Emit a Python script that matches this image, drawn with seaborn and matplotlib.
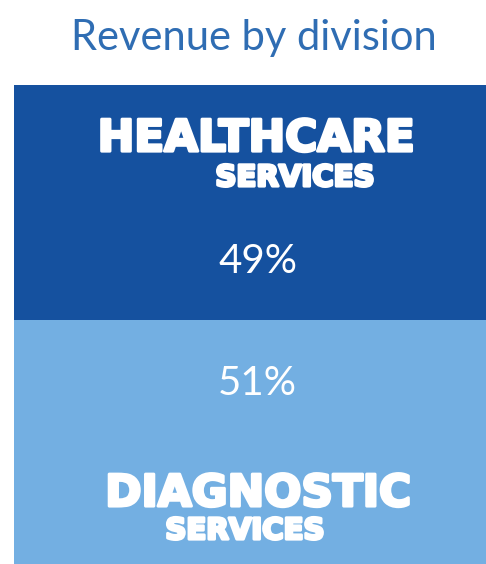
import matplotlib
matplotlib.use("Agg")
import matplotlib.pyplot as plt
import matplotlib.patheffects as pe
import pandas as pd
import seaborn as sns

# Revenue split by division (percent of total), top segment first
divisions = ["HEALTHCARE", "DIAGNOSTIC"]
subtitles = ["SERVICES", "SERVICES"]
shares = [49, 51]
colors = ["#15519f", "#73afe2"]
title = "Revenue by division"

sns.set_theme(style="white")
plt.rcParams["font.family"] = ["Lato", "DejaVu Sans"]

fig = plt.figure(figsize=(4.86, 5.64), dpi=100)
fig.patch.set_facecolor("white")
ax = fig.add_axes([14 / 486, 0, 472 / 486, 479 / 564])

# Stacked single column: each segment is drawn up to its cumulative top,
# with the lower segments painted over the upper ones.
tops = []
running = 0
for s in reversed(shares):
    running += s
    tops.append(running)
tops = list(reversed(tops))
df = pd.DataFrame({"stack": ["all"] * len(shares), "division": divisions,
                   "share": shares, "top": tops})

for i in range(len(df)):
    sns.barplot(data=df.iloc[[i]], x="stack", y="top", color=colors[i],
                saturation=1, width=1, linewidth=0, edgecolor="none", ax=ax)

ax.set_xlim(-0.5, 0.5)
ax.set_ylim(0, 100)
ax.axis("off")

heavy = dict(color="white", family="DejaVu Sans", weight="bold",
             path_effects=[pe.withStroke(linewidth=2.2, foreground="white")])

# Label offsets inside each segment (in data units)
main_pos = [(0.013, 86.2), (0.017, 12.1)]
sub_pos = [(0.095, 78.9), (-0.011, 5.2)]
pct_pos = [(0.017, 60.75), (0.015, 35.3)]

for i in range(len(df)):
    ax.text(*main_pos[i], divisions[i], ha="center", va="baseline",
            fontsize=31.5, **heavy)
    ax.text(*sub_pos[i], subtitles[i], ha="center", va="baseline",
            fontsize=21, **heavy)
    ax.text(*pct_pos[i], f"{df['share'].iloc[i]}%", ha="center",
            va="baseline", fontsize=29, color="white", weight="normal")

fig.text(254 / 486, 1 - 50 / 564, title, ha="center", va="baseline",
         fontsize=30, color="#2f6db3")

fig.savefig("out.png", dpi=100)
